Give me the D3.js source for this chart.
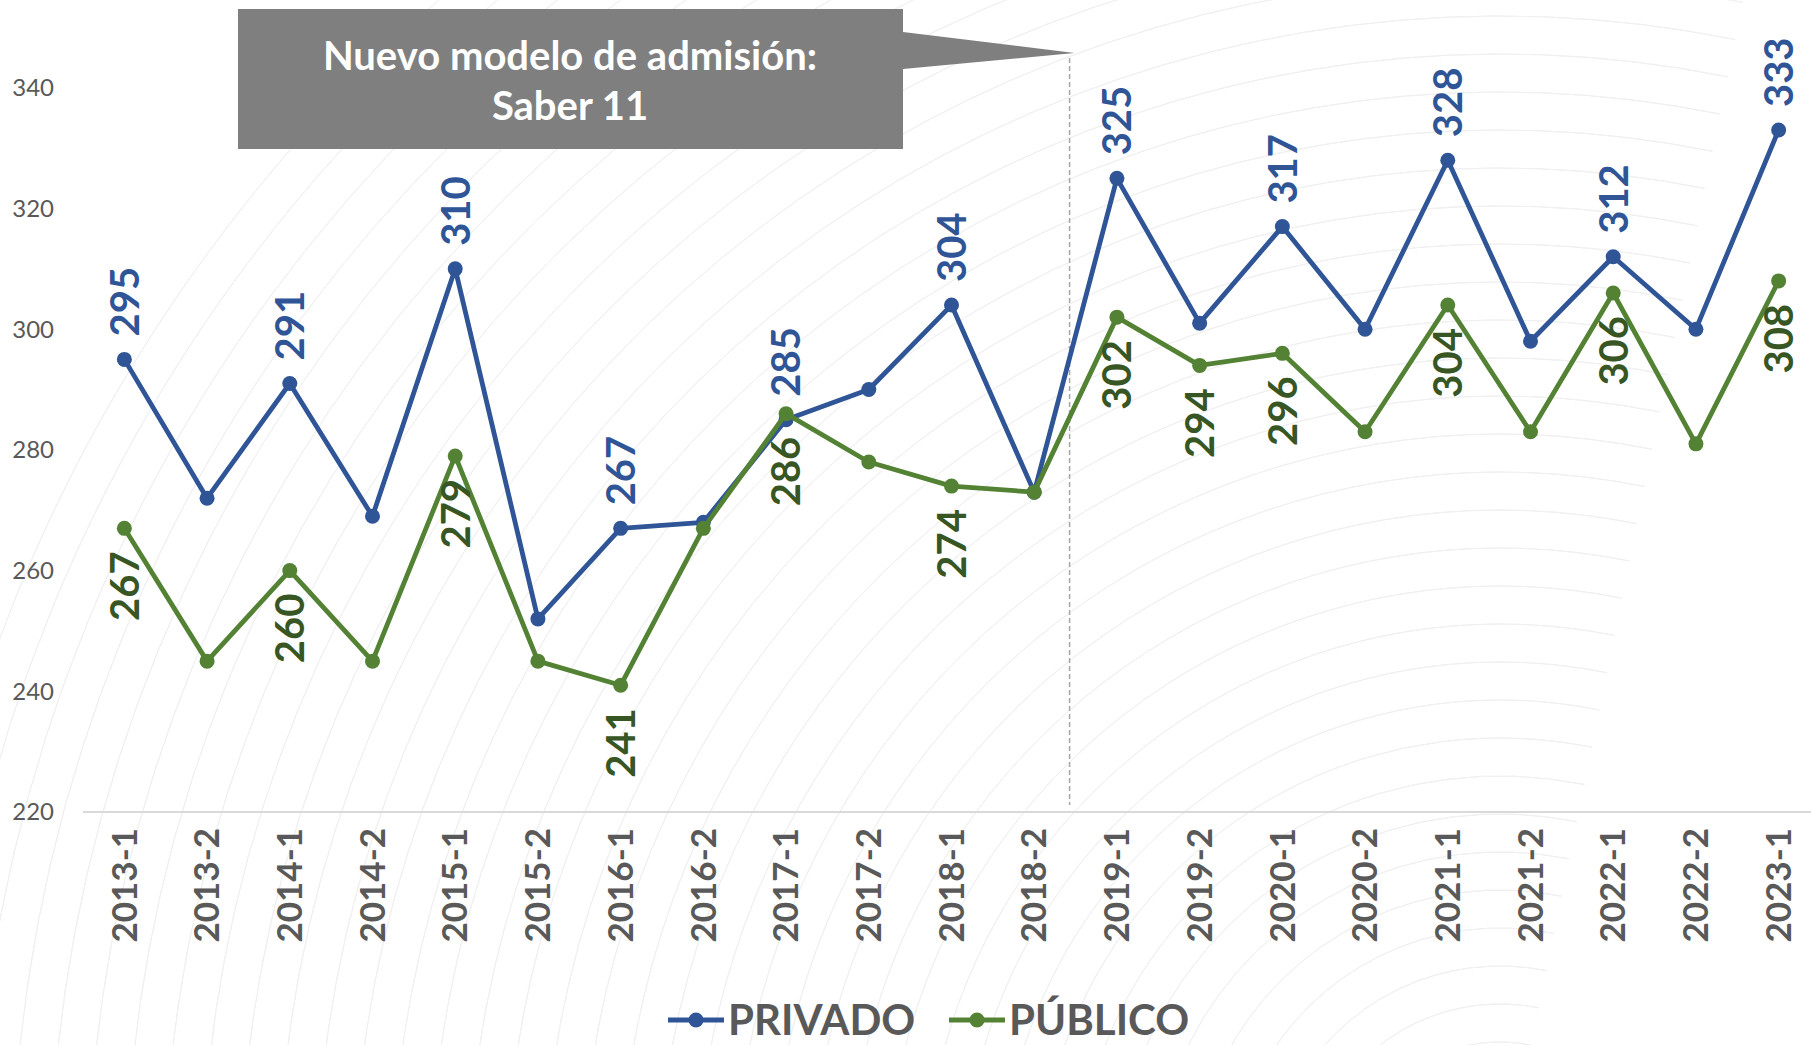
<!DOCTYPE html>
<html>

<head>
    <title>Puntaje promedio Privado vs Público</title>
    <script src="https://cdnjs.cloudflare.com/ajax/libs/d3/7.8.5/d3.min.js"></script>
    <style>
        body { margin: 0; background: #fff; }
        svg { display: block; font-family: Lato, "Open Sans", sans-serif; }
    </style>
</head>

<body>
    <div id="chart"></div>
    <script>
        // Periods and scores
        const periods = ["2013-1", "2013-2", "2014-1", "2014-2", "2015-1", "2015-2", "2016-1", "2016-2",
            "2017-1", "2017-2", "2018-1", "2018-2", "2019-1", "2019-2", "2020-1", "2020-2",
            "2021-1", "2021-2", "2022-1", "2022-2", "2023-1"];
        const privado = [295, 272, 291, 269, 310, 252, 267, 268, 285, 290, 304, 273, 325, 301, 317, 300, 328, 298, 312, 300, 333];
        const publico = [267, 245, 260, 245, 279, 245, 241, 267, 286, 278, 274, 273, 302, 294, 296, 283, 304, 283, 306, 281, 308];
        // which points carry a value label
        const privadoLabeled = ["2013-1", "2014-1", "2015-1", "2016-1", "2017-1", "2018-1", "2019-1", "2020-1", "2021-1", "2022-1", "2023-1"];
        const publicoLabeled = ["2013-1", "2014-1", "2015-1", "2016-1", "2017-1", "2018-1", "2019-1", "2019-2", "2020-1", "2021-1", "2022-1", "2023-1"];
        const yTicks = [220, 240, 260, 280, 300, 320, 340];
        const calloutLines = ["Nuevo modelo de admisión:", "Saber 11"];

        const W = 1811, H = 1045;
        const svg = d3.select("#chart").append("svg")
            .attr("width", W)
            .attr("height", H);

        // faint wavy background
        const bg = svg.append("g").attr("fill", "none").attr("stroke", "#f0f0f0").attr("stroke-width", 1);
        for (let k = 0; k < 40; k++) {
            const r = 120 + k * 38;
            bg.append("path")
                .attr("d", d3.arc()({ innerRadius: r, outerRadius: r, startAngle: -2.4, endAngle: 0.2 }))
                .attr("transform", "translate(1500,1200)");
        }

        const x = d3.scaleBand().domain(periods).range([83, 1820]);
        const y = d3.scaleLinear().domain([220, 340]).range([812, 87.8]);
        const cx = p => x(p) + x.bandwidth() / 2;
        const sepX = x("2019-1") - 6;

        // y tick labels
        svg.append("g").selectAll("text")
            .data(yTicks).enter().append("text")
            .attr("x", 54)
            .attr("y", d => y(d))
            .attr("dy", "0.35em")
            .attr("text-anchor", "end")
            .attr("fill", "#595959")
            .attr("font-size", 24)
            .text(d => d);

        // baseline
        svg.append("line")
            .attr("x1", 83).attr("x2", W)
            .attr("y1", y(220)).attr("y2", y(220))
            .attr("stroke", "#d9d9d9").attr("stroke-width", 2);

        // x labels
        svg.append("g").selectAll("text")
            .data(periods).enter().append("text")
            .attr("transform", d => `translate(${cx(d)},828) rotate(-90)`)
            .attr("dy", "0.35em")
            .attr("text-anchor", "end")
            .attr("fill", "#595959")
            .attr("font-size", 35)
            .attr("font-weight", "bold")
            .text(d => d);

        // dashed separator
        svg.append("line")
            .attr("x1", sepX).attr("x2", sepX)
            .attr("y1", 58).attr("y2", 805)
            .attr("stroke", "#a6a6a6").attr("stroke-width", 1.5)
            .attr("stroke-dasharray", "5,3");

        // callout
        svg.append("path")
            .attr("d", `M238,9H903V32L${sepX + 5},53L903,69V149H238Z`)
            .attr("fill", "#7f7f7f");
        svg.append("g").selectAll("text")
            .data(calloutLines).enter().append("text")
            .attr("x", 570)
            .attr("y", (d, i) => 70 + i * 50)
            .attr("text-anchor", "middle")
            .attr("fill", "#fff")
            .attr("font-size", 40)
            .attr("font-weight", "bold")
            .text(d => d);

        const series = [
            { name: "PRIVADO", values: privado, color: "#2f5597", labelColor: "#2f5597", labeled: privadoLabeled, above: true },
            { name: "PÚBLICO", values: publico, color: "#548235", labelColor: "#375623", labeled: publicoLabeled, above: false }
        ];

        const line = d3.line().x((d, i) => cx(periods[i])).y(d => y(d));

        series.forEach(s => {
            svg.append("path")
                .datum(s.values)
                .attr("d", line)
                .attr("fill", "none")
                .attr("stroke", s.color)
                .attr("stroke-width", 4.8)
                .attr("stroke-linejoin", "round");
            svg.append("g").selectAll("circle")
                .data(s.values).enter().append("circle")
                .attr("cx", (d, i) => cx(periods[i]))
                .attr("cy", d => y(d))
                .attr("r", 7.5)
                .attr("fill", s.color);
        });

        series.forEach(s => {
            svg.append("g").selectAll("text")
                .data(s.values.map((v, i) => ({ p: periods[i], v })).filter(d => s.labeled.includes(d.p)))
                .enter().append("text")
                .attr("transform", d => `translate(${cx(d.p)},${y(d.v) + (s.above ? -23 : 23)}) rotate(-90)`)
                .attr("dy", "0.36em")
                .attr("text-anchor", s.above ? "start" : "end")
                .attr("fill", s.labelColor)
                .attr("font-size", 40)
                .attr("font-weight", "bold")
                .text(d => d.v);
        });

        // legend
        const legend = svg.append("g");
        const legendX = [668, 949];
        series.forEach((s, i) => {
            const g = legend.append("g").attr("transform", `translate(${legendX[i]},1020)`);
            g.append("line").attr("x1", 0).attr("x2", 56)
                .attr("stroke", s.color).attr("stroke-width", 4.8);
            g.append("circle").attr("cx", 28).attr("r", 7.5).attr("fill", s.color);
            g.append("text")
                .attr("x", 60)
                .attr("dy", "0.36em")
                .attr("fill", "#595959")
                .attr("font-size", 42)
                .attr("font-weight", "bold")
                .text(s.name);
        });
    </script>
</body>

</html>
